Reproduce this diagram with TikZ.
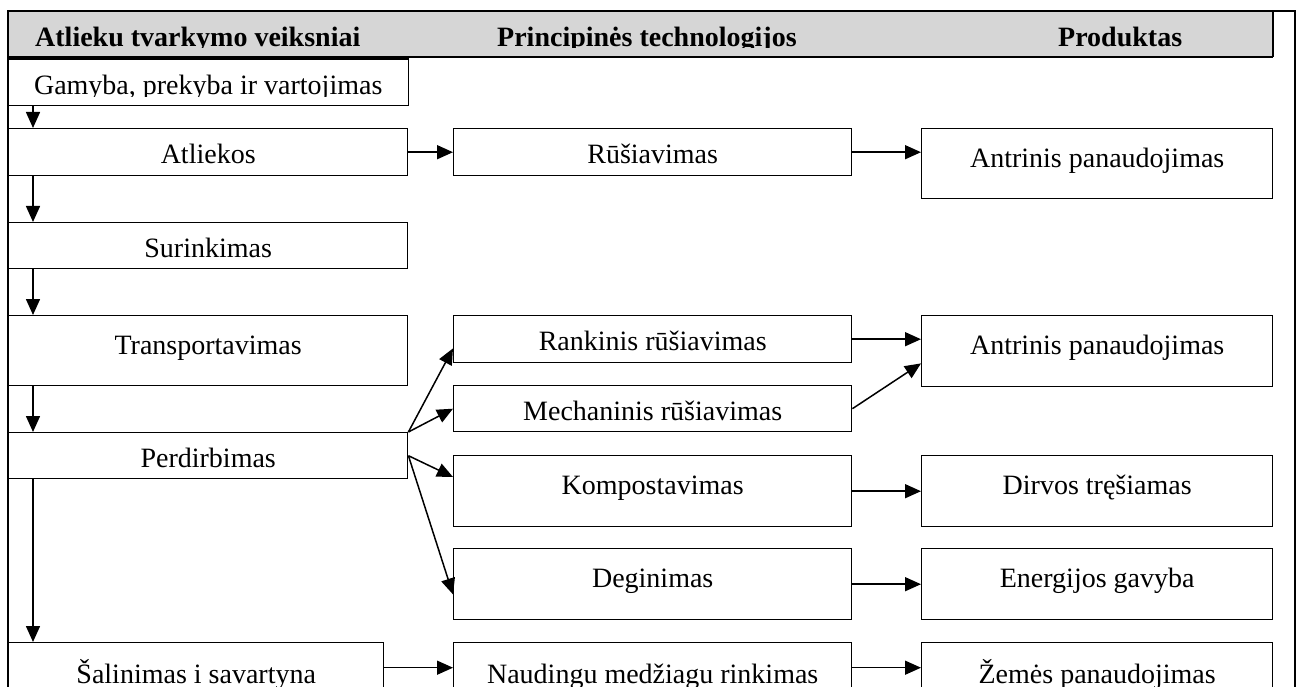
\documentclass[tikz,border=0pt]{standalone}
\usepackage{fontspec}
\setmainfont{Liberation Serif}
\usetikzlibrary{arrows.meta}
\begin{document}
\begin{tikzpicture}[x=1pt,y=-1pt,
  bx/.style n args={4}{draw=black, line width=1.4pt, rectangle, inner sep=0pt,
    anchor=north west, minimum width=#1pt, minimum height=#2pt,
    text height=#3pt, text depth=#4pt, font=\fontsize{28}{34}\selectfont},
  hd/.style={inner sep=0pt, anchor=base west, font=\fontsize{28}{34}\selectfont\bfseries},
  arr/.style={line width=1.5pt, -{Triangle[length=16pt,width=14pt]}},
  hdrfill/.style={fill=black!16}]
\useasboundingbox (0,0) rectangle (1301,687);
\clip (0,0) rectangle (1301,687);
% header band
\fill[hdrfill] (8,11) rectangle (1273,57);
\begin{scope}
  \clip (8,11) rectangle (1273,48);
  \node[hd] (h1) at (35,47) {Atlieku tvarkymo veiksniai};
  \node[hd] (h2) at (497,47) {Principinės technologijos};
  \node[hd] (h3) at (1058,47) {Produktas};
\end{scope}
\draw[line width=1.2pt] (1273,11) -- (1273,57);
\draw[line width=2pt] (8,57) -- (1273,57);
\draw[line width=2.6pt] (8,700) -- (8,11) -- (1295,11) -- (1295,700);
% column 1
\begin{scope}
  \clip (0,0) rectangle (1301,97);
  \node[bx={399}{45}{35}{10}, draw=none] (g) at (8,59) {Gamyba, prekyba ir vartojimas};
\end{scope}
\draw[line width=1.4pt] (g.north west) rectangle (g.south east);
\node[bx={399}{47}{35}{12}] (at) at (8,128) {Atliekos};
\node[bx={399}{46}{35}{11}] (su) at (8,222) {Surinkimas};
\node[bx={399}{70}{39}{31}] (tr) at (8,315) {Transportavimas};
\node[bx={399}{46}{35}{11}] (pe) at (8,432) {Perdirbimas};
\node[bx={375}{50}{41}{9}] (sa) at (8,642) {Šalinimas i savartyna};
% column 2
\node[bx={398}{47}{35}{12}] (r) at (453,128) {Rūšiavimas};
\node[bx={398}{47}{35}{12}] (rk) at (453,315) {Rankinis rūšiavimas};
\node[bx={398}{46}{35}{11}] (me) at (453,385) {Mechaninis rūšiavimas};
\node[bx={398}{71}{39}{32}] (ko) at (453,455) {Kompostavimas};
\node[bx={398}{71}{39}{32}] (de) at (453,548) {Deginimas};
\node[bx={398}{50}{41}{9}] (na) at (453,642) {Naudingu medžiagu rinkimas};
% column 3
\node[bx={351}{70}{39}{31}] (a1) at (921,128) {Antrinis panaudojimas};
\node[bx={351}{71}{39}{32}] (a2) at (921,315) {Antrinis panaudojimas};
\node[bx={351}{71}{39}{32}] (dv) at (921,455) {Dirvos tręšiamas};
\node[bx={351}{71}{39}{32}] (en) at (921,548) {Energijos gavyba};
\node[bx={351}{50}{41}{9}] (ze) at (921,642) {Žemės panaudojimas};
% vertical arrows
\draw[arr] ([xshift=25pt]g.south west) -- ([xshift=25pt]at.north west);
\draw[arr] ([xshift=25pt]at.south west) -- ([xshift=25pt]su.north west);
\draw[arr] ([xshift=25pt]su.south west) -- ([xshift=25pt]tr.north west);
\draw[arr] ([xshift=25pt]tr.south west) -- ([xshift=25pt]pe.north west);
\draw[arr] ([xshift=25pt]pe.south west) -- ([xshift=25pt]sa.north west);
% fan
\draw[arr] (pe.north east) -- ([yshift=15pt]rk.south west);
\draw[arr] (pe.north east) -- (me.west);
\draw[arr] (pe.east) -- ([yshift=-22pt]ko.north west);
\draw[arr] (pe.east) -- ([yshift=26pt]de.south west);
% horizontal arrows
\draw[arr] (at.east) -- (r.west);
\draw[arr] (r.east) -- (r.east -| a1.west);
\draw[arr] (rk.east) -- (rk.east -| a2.west);
\draw[arr] (me.east) -- ([yshift=24pt]a2.south west);
\draw[arr] (ko.east) -- (dv.west);
\draw[arr] (de.east) -- (en.west);
\draw[arr] (sa.east) -- (na.west);
\draw[arr] (na.east) -- (ze.west);
\end{tikzpicture}
\end{document}
